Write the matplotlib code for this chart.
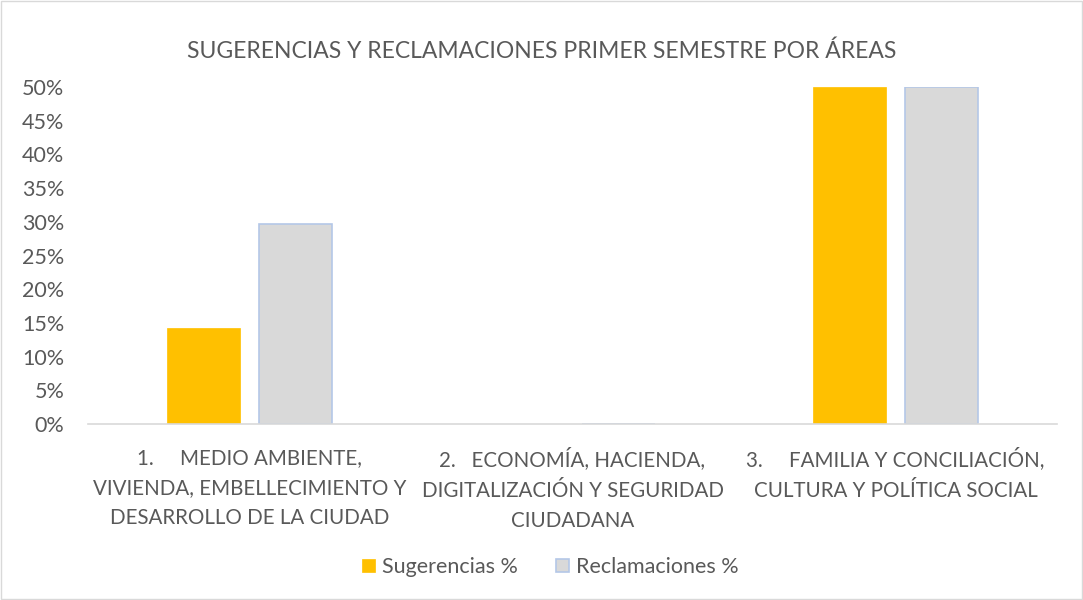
import matplotlib
matplotlib.use("Agg")
import matplotlib.pyplot as plt
from matplotlib.patches import Rectangle
import numpy as np

categories = [
    "1.     MEDIO AMBIENTE,\nVIVIENDA, EMBELLECIMIENTO Y\nDESARROLLO DE LA CIUDAD",
    "2.   ECONOMÍA, HACIENDA,\nDIGITALIZACIÓN Y SEGURIDAD\nCIUDADANA",
    "3.     FAMILIA Y CONCILIACIÓN,\nCULTURA Y POLÍTICA SOCIAL",
]
sugerencias = [0.143, 0.0, 0.5]
reclamaciones = [0.297, 0.0, 0.5]
series_names = ["Sugerencias %", "Reclamaciones %"]
title = "SUGERENCIAS Y RECLAMACIONES PRIMER SEMESTRE POR ÁREAS"
yticks = [0, 0.05, 0.10, 0.15, 0.20, 0.25, 0.30, 0.35, 0.40, 0.45, 0.50]

plt.rcParams['font.family'] = ['Lato', 'DejaVu Sans']
txt = '#595959'

fig = plt.figure(figsize=(10.83, 6.0), dpi=100)
ax = fig.add_axes([0.0813, 0.2933, 0.8947, 0.5617])

x = np.arange(len(categories))
w = 0.226
off = 0.142
ax.bar(x - off, sugerencias, w, color='#FFC000', edgecolor='#FFC000', linewidth=0.5,
       label=series_names[0])
ax.bar(x + off, reclamaciones, w, color='#D9D9D9', edgecolor='#B4C7E7', linewidth=1.2,
       label=series_names[1])

ax.set_xlim(-0.5, 2.5)
ax.set_ylim(0, 0.5)
ax.set_yticks(yticks)
ax.set_yticklabels([f"{int(round(v*100))}%" for v in yticks])
ax.set_xticks(x)
ax.set_xticklabels(categories, fontsize=14.8, color=txt, linespacing=1.64)
ax.tick_params(axis='y', length=0, labelsize=15.5, labelcolor=txt, pad=17)
ax.tick_params(axis='x', length=0, pad=17)
for s in ['top', 'right', 'left']:
    ax.spines[s].set_visible(False)
ax.spines['bottom'].set_color('#D9D9D9')
ax.spines['bottom'].set_linewidth(1.2)

fig.text(0.5, 0.915, title, ha='center', va='center', fontsize=16.5, color=txt)

leg = fig.legend(loc='center', bbox_to_anchor=(0.508, 0.055), ncol=2, frameon=False,
                 fontsize=15.5, labelcolor=txt, handlelength=0.6, handleheight=0.6,
                 handletextpad=0.3, columnspacing=1.8)

fig.patches.append(Rectangle((0.001, 0.001), 0.998, 0.998, transform=fig.transFigure,
                             fill=False, edgecolor='#D9D9D9', linewidth=1.0))

fig.savefig("out.png", dpi=100, facecolor='white')
